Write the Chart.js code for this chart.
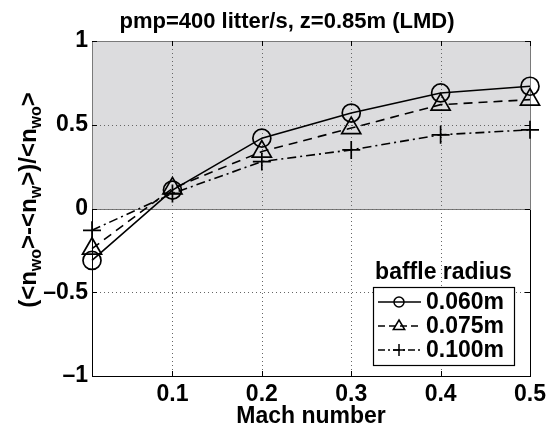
<!DOCTYPE html>
<html>
<head>
<meta charset="utf-8">
<script src="https://cdn.jsdelivr.net/npm/chart.js@4/dist/chart.umd.min.js"></script>
<style>
html,body{margin:0;padding:0;background:#fff;}
#wrap{width:557px;height:427px;position:relative;}
</style>
</head>
<body>
<div id="wrap"><canvas id="c" width="557" height="427"></canvas></div>
<script>
// ---- data ----
const machNumbers = [0.01, 0.1, 0.2, 0.3, 0.4, 0.5];
const radius060 = [-0.31, 0.11, 0.42, 0.57, 0.69, 0.73];
const radius075 = [-0.24, 0.12, 0.34, 0.48, 0.62, 0.65];
const radius100 = [-0.13, 0.09, 0.28, 0.35, 0.44, 0.47];
const seriesNames = ['0.060m', '0.075m', '0.100m'];
const xTicks = [0.1, 0.2, 0.3, 0.4, 0.5];
const yTicks = [-1, -0.5, 0, 0.5, 1];
const yTickLabels = ['\u20131', '\u20130.5', '0', '0.5', '1'];
const titleText = 'pmp=400 litter/s, z=0.85m (LMD)';
const xTitle = 'Mach number';
const legendTitle = 'baffle radius';

const FONT = '"Liberation Sans", Arial, Helvetica, sans-serif';

function pts(ys){ return machNumbers.map((x,i)=>({x:x,y:ys[i]})); }

const styles = [
  {pointStyle:'circle', radius:9, dash:[], lsRadius:5},
  {pointStyle:'triangle', radius:11, dash:[9,6], lsRadius:6},
  {pointStyle:'cross', radius:9, dash:[9,4,2,4], lsRadius:6}
];
const allSeries = [radius060, radius075, radius100];

const datasets = allSeries.map((ys,i)=>({
  label: seriesNames[i],
  data: pts(ys),
  borderColor:'#000',
  backgroundColor:'rgba(0,0,0,0)',
  borderWidth:1.6,
  borderDash: styles[i].dash,
  pointStyle: styles[i].pointStyle,
  pointRadius: styles[i].radius,
  pointBorderWidth:1.7,
  pointBorderColor:'#000',
  pointBackgroundColor:'rgba(0,0,0,0)',
  tension:0,
  clip:false
}));

const background = {
  id:'background',
  beforeDatasetsDraw(chart){
    const ctx = chart.ctx, a = chart.chartArea;
    const xs = chart.scales.x, ys = chart.scales.y;
    ctx.save();
    ctx.strokeStyle = '#000'; ctx.lineWidth = 1;
    ctx.strokeRect(Math.round(a.left)+0.5, Math.round(a.top)+0.5, Math.round(a.right-a.left), Math.round(a.bottom-a.top));
    const y0 = ys.getPixelForValue(0), y1 = ys.getPixelForValue(1);
    ctx.fillStyle = '#dcdcde';
    ctx.fillRect(Math.round(a.left), Math.round(y1), Math.round(a.right-a.left)+1, Math.round(y0-y1));
    ctx.strokeStyle = '#7a7a7a';
    ctx.strokeRect(Math.round(a.left)+0.5, Math.round(y1)+0.5, Math.round(a.right-a.left), Math.round(y0-y1));
    ctx.strokeStyle = '#666'; ctx.lineWidth = 1; ctx.setLineDash([1,3]);
    xTicks.forEach(v=>{
      if (v===0.5) return;
      const px = Math.round(xs.getPixelForValue(v))+0.5;
      ctx.beginPath(); ctx.moveTo(px, a.top); ctx.lineTo(px, a.bottom); ctx.stroke();
    });
    yTicks.forEach(v=>{
      if (v===1 || v===-1) return;
      const py = Math.round(ys.getPixelForValue(v))+0.5;
      ctx.beginPath(); ctx.moveTo(a.left, py); ctx.lineTo(a.right, py); ctx.stroke();
    });
    ctx.setLineDash([]);
    ctx.strokeStyle = '#000';
    xTicks.forEach(v=>{
      const px = Math.round(xs.getPixelForValue(v))+0.5;
      ctx.beginPath(); ctx.moveTo(px, a.bottom); ctx.lineTo(px, a.bottom-5);
      ctx.moveTo(px, a.top); ctx.lineTo(px, a.top+5); ctx.stroke();
    });
    yTicks.forEach(v=>{
      const py = Math.round(ys.getPixelForValue(v))+0.5;
      ctx.beginPath(); ctx.moveTo(a.left, py); ctx.lineTo(a.left+5, py);
      ctx.moveTo(a.right, py); ctx.lineTo(a.right-5, py); ctx.stroke();
    });
    ctx.restore();
  }
};

function drawMarker(ctx, style, x, y, r){
  ctx.beginPath();
  if (style==='circle'){ ctx.arc(x,y,r,0,Math.PI*2); }
  else if (style==='triangle'){
    ctx.moveTo(x, y-r); ctx.lineTo(x+r*0.95, y+r*0.6); ctx.lineTo(x-r*0.95, y+r*0.6); ctx.closePath();
  } else {
    ctx.moveTo(x-r,y); ctx.lineTo(x+r,y); ctx.moveTo(x,y-r); ctx.lineTo(x,y+r);
  }
  ctx.stroke();
}

const texts = {
  id:'texts',
  afterDraw(chart){
    const ctx = chart.ctx, a = chart.chartArea;
    ctx.save();
    ctx.fillStyle = '#000';
    ctx.font = 'bold 22px ' + FONT;
    ctx.textAlign = 'center'; ctx.textBaseline = 'alphabetic';
    ctx.fillText(titleText, 287, 28);
    ctx.font = 'bold 23px ' + FONT;
    ctx.fillText(xTitle, (a.left+a.right)/2, 423);
    const parts = [['(<n',0],['wo',1],['>-<n',0],['w',1],['>)/<n',0],['wo',1],['>',0]];
    const big = 'bold 24px ' + FONT, small = 'bold 16px ' + FONT;
    let total = 0;
    parts.forEach(p=>{ ctx.font = p[1]?small:big; total += ctx.measureText(p[0]).width; });
    ctx.translate(36, 200);
    ctx.rotate(-Math.PI/2);
    ctx.textAlign = 'left';
    let cx = -total/2;
    parts.forEach(p=>{
      ctx.font = p[1]?small:big;
      ctx.fillText(p[0], cx, p[1]?5:0);
      cx += ctx.measureText(p[0]).width;
    });
    ctx.restore();

    ctx.save();
    const lx = 373, ly = 287, lw = 141, lh = 78;
    ctx.fillStyle = '#fff';
    ctx.fillRect(lx, ly, lw, lh);
    ctx.strokeStyle = '#000'; ctx.lineWidth = 1.2;
    ctx.strokeRect(lx+0.5, ly+0.5, lw, lh);
    ctx.fillStyle = '#000';
    ctx.font = 'bold 23px ' + FONT;
    ctx.textAlign = 'center'; ctx.textBaseline = 'alphabetic';
    ctx.fillText(legendTitle, lx+lw/2, 279);
    ctx.textAlign = 'left'; ctx.textBaseline = 'middle';
    seriesNames.forEach((name,i)=>{
      const yy = ly + 15 + i*24;
      ctx.lineWidth = 1.5;
      ctx.setLineDash(styles[i].dash.length? (i===1?[7,4]:[7,3,2,3]) : []);
      ctx.beginPath(); ctx.moveTo(lx+5, yy); ctx.lineTo(lx+48, yy); ctx.stroke();
      ctx.setLineDash([]);
      drawMarker(ctx, styles[i].pointStyle, lx+26, yy, styles[i].lsRadius);
      ctx.fillText(name, lx+53, yy+1);
    });
    ctx.restore();
  }
};

new Chart(document.getElementById('c'), {
  type:'line',
  data:{datasets:datasets},
  options:{
    responsive:false,
    animation:false,
    devicePixelRatio:1,
    layout:{padding:{left:0,right:27,top:41,bottom:0}},
    plugins:{legend:{display:false}, tooltip:{enabled:false}, title:{display:false}},
    scales:{
      x:{
        type:'linear', min:0.01, max:0.5,
        afterBuildTicks(s){ s.ticks = xTicks.map(v=>({value:v})); },
        afterFit(s){ s.height = 51; },
        grid:{display:false, drawTicks:false}, border:{display:false},
        ticks:{color:'#000', padding:5, maxRotation:0, autoSkip:false,
          font:{family:FONT, size:23, weight:'bold'},
          callback:(v)=>v.toFixed(1)}
      },
      y:{
        type:'linear', min:-1, max:1,
        afterBuildTicks(s){ s.ticks = yTicks.map(v=>({value:v})); },
        afterFit(s){ s.width = 92; },
        grid:{display:false, drawTicks:false}, border:{display:false},
        ticks:{color:'#000', padding:4, autoSkip:false,
          font:{family:FONT, size:23, weight:'bold'},
          callback:(v)=>yTickLabels[yTicks.indexOf(v)]}
      }
    }
  },
  plugins:[background, texts]
});
</script>
</body>
</html>
